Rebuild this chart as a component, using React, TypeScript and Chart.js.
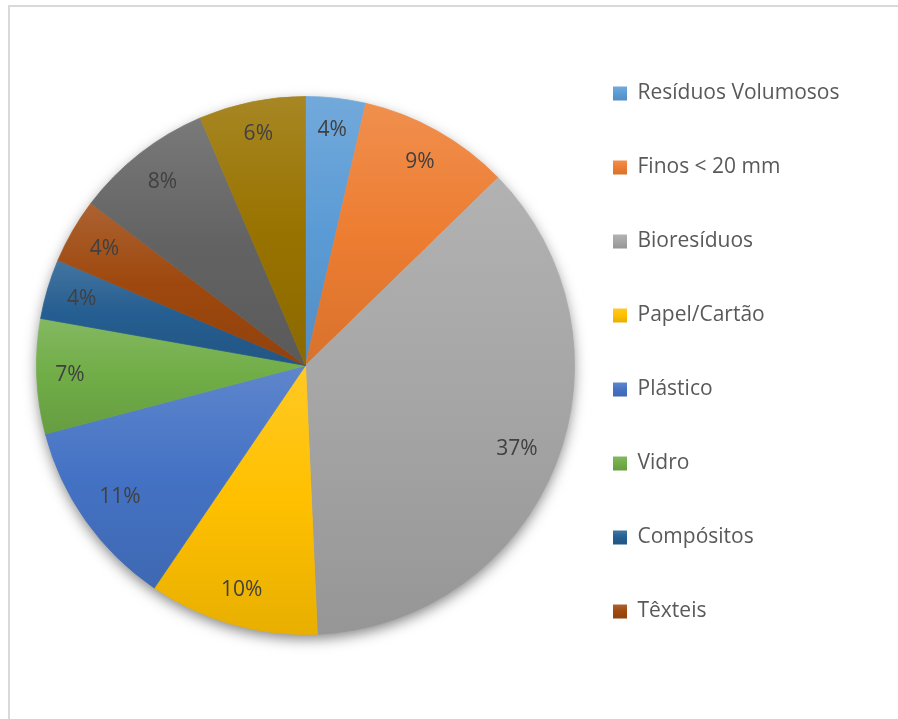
import React, { useEffect, useRef } from 'react';
import { Chart, registerables } from 'chart.js';

Chart.register(...registerables);

// ---- data ----
const CATEGORIES = [
  'Resíduos Volumosos',
  'Finos < 20 mm',
  'Bioresíduos',
  'Papel/Cartão',
  'Plástico',
  'Vidro',
  'Compósitos',
  'Têxteis',
  'Têxteis Sanitários',
  'Outros',
];
const VALUES = [3.6, 9.1, 36.6, 10.2, 11.4, 6.9, 3.6, 3.9, 8.3, 6.4];
const COLORS = [
  '#5B9BD5',
  '#ED7D31',
  '#A5A5A5',
  '#FFC000',
  '#4472C4',
  '#70AD47',
  '#255E91',
  '#9E480E',
  '#636363',
  '#997300',
];
const LEGEND_COUNT = 8; // legend in the original only shows the first 8 entries

// ---- layout ----
const W = 898;
const H = 719;
const FONT = '"Open Sans", "Noto Sans", sans-serif';
const FS = 21;
const CX = 306;
const CY = 365.5;
const R = 269;
const PAD_TOP = 30;
const LEG_PAD = 53;
const BOX = 14;
const BOX_LEFT = 614;

function hexToRgb(hex: string): [number, number, number] {
  const h = hex.replace('#', '');
  return [parseInt(h.slice(0, 2), 16), parseInt(h.slice(2, 4), 16), parseInt(h.slice(4, 6), 16)];
}
function mix(hex: string, target: number, t: number): string {
  const [r, g, b] = hexToRgb(hex);
  const f = (c: number) => Math.round(c + (target - c) * t);
  return `rgb(${f(r)},${f(g)},${f(b)})`;
}
function makeGrad(ctx: CanvasRenderingContext2D, base: string, y0: number, y1: number) {
  const g = ctx.createLinearGradient(0, y0, 0, y1);
  g.addColorStop(0, mix(base, 255, 0.14));
  g.addColorStop(0.5, base);
  g.addColorStop(1, mix(base, 0, 0.09));
  return g;
}

export default function App() {
  const ref = useRef<HTMLCanvasElement>(null);

  useEffect(() => {
    const canvas = ref.current!;
    const mctx = canvas.getContext('2d')!;
    mctx.font = `normal ${FS}px ${FONT}`;
    const tw = Math.max(...CATEGORIES.slice(0, LEGEND_COUNT).map((t) => mctx.measureText(t).width));
    const legLeft = BOX_LEFT - LEG_PAD;
    const padRight = Math.max(0, W - (BOX_LEFT + BOX + FS / 2 + tw) - 9);
    const padLeft = 2 * CX - legLeft;
    const padBottom = H - (2 * CY - PAD_TOP);
    const total = VALUES.reduce((a, b) => a + b, 0);

    const sliceColor = (c: any) => {
      const i = c.dataIndex;
      const base = COLORS[i % COLORS.length];
      const chart = c.chart;
      const area = chart.chartArea;
      if (!area || i === undefined) return base;
      const cx = (area.left + area.right) / 2;
      const cy = (area.top + area.bottom) / 2;
      let cum = 0;
      for (let k = 0; k < i; k++) cum += VALUES[k];
      const s = -Math.PI / 2 + (2 * Math.PI * cum) / total;
      const e = s + (2 * Math.PI * VALUES[i]) / total;
      const ys = [cy, cy + R * Math.sin(s), cy + R * Math.sin(e)];
      const within = (a: number) => {
        for (let k = -1; k <= 2; k++) {
          const aa = a + k * 2 * Math.PI;
          if (aa >= s && aa <= e) return true;
        }
        return false;
      };
      if (within(Math.PI / 2)) ys.push(cy + R);
      if (within(-Math.PI / 2)) ys.push(cy - R);
      return makeGrad(chart.ctx, base, Math.min(...ys), Math.max(...ys));
    };

    const shadowPlugin = {
      id: 'pieShadow',
      beforeDatasetsDraw(chart: any) {
        const arc = chart.getDatasetMeta(0).data[0];
        if (!arc) return;
        const c = chart.ctx;
        c.save();
        c.shadowColor = 'rgba(0,0,0,0.5)';
        c.shadowBlur = 14;
        c.shadowOffsetX = 0;
        c.shadowOffsetY = 5;
        c.beginPath();
        c.arc(arc.x, arc.y, arc.outerRadius - 1, 0, Math.PI * 2);
        c.fillStyle = '#ffffff';
        c.fill();
        c.restore();
      },
    };

    const labelPlugin = {
      id: 'sliceLabels',
      afterDatasetsDraw(chart: any) {
        const meta = chart.getDatasetMeta(0);
        const c = chart.ctx;
        c.save();
        c.font = `${FS}px ${FONT}`;
        c.fillStyle = '#404040';
        c.textAlign = 'center';
        c.textBaseline = 'middle';
        meta.data.forEach((arc: any, i: number) => {
          const v = VALUES[i];
          const text = Math.round((v / total) * 100) + '%';
          const mid = (arc.startAngle + arc.endAngle) / 2;
          const w = c.measureText(text).width;
          const h = 24;
          const cs = Math.cos(mid);
          const sn = Math.sin(mid);
          const dist = arc.outerRadius - 18 - (Math.abs(cs) * w) / 2 - (Math.abs(sn) * h) / 2;
          c.fillText(text, arc.x + cs * dist, arc.y + sn * dist);
        });
        c.restore();
      },
    };

    const chart = new Chart(canvas, {
      type: 'pie',
      data: {
        labels: CATEGORIES,
        datasets: [
          {
            data: VALUES,
            backgroundColor: sliceColor,
            borderColor: sliceColor,
            borderWidth: 0.8,
            radius: R,
            clip: false,
          } as any,
        ],
      },
      options: {
        responsive: false,
        animation: false,
        devicePixelRatio: 1,
        layout: {
          padding: { top: PAD_TOP, bottom: padBottom, left: padLeft, right: padRight },
        },
        plugins: {
          tooltip: { enabled: false },
          legend: {
            display: true,
            position: 'right',
            align: 'start',
            labels: {
              boxWidth: BOX,
              boxHeight: BOX,
              padding: LEG_PAD,
              color: '#595959',
              font: { family: FONT, size: FS },
              generateLabels: () =>
                CATEGORIES.slice(0, LEGEND_COUNT).map((text, i) => {
                  const top = PAD_TOP + LEG_PAD + i * (FS + LEG_PAD) + (FS - BOX) / 2;
                  return {
                    text,
                    fillStyle: makeGrad(mctx, COLORS[i], top, top + BOX),
                    strokeStyle: 'rgba(0,0,0,0)',
                    lineWidth: 0,
                    hidden: false,
                    index: i,
                    fontColor: '#595959',
                  } as any;
                }),
            },
          },
        },
      } as any,
      plugins: [shadowPlugin, labelPlugin],
    });

    return () => chart.destroy();
  }, []);

  return (
    <>
      <div
        style={{
          position: 'absolute',
          left: 8,
          top: 5,
          width: W,
          height: H,
          boxSizing: 'border-box',
          borderLeft: '2px solid #d9d9d9',
          borderTop: '2px solid #d9d9d9',
        }}
      />
      <canvas
        ref={ref}
        width={W}
        height={H}
        style={{ position: 'absolute', left: 0, top: 0, width: W, height: H }}
      />
    </>
  );
}
